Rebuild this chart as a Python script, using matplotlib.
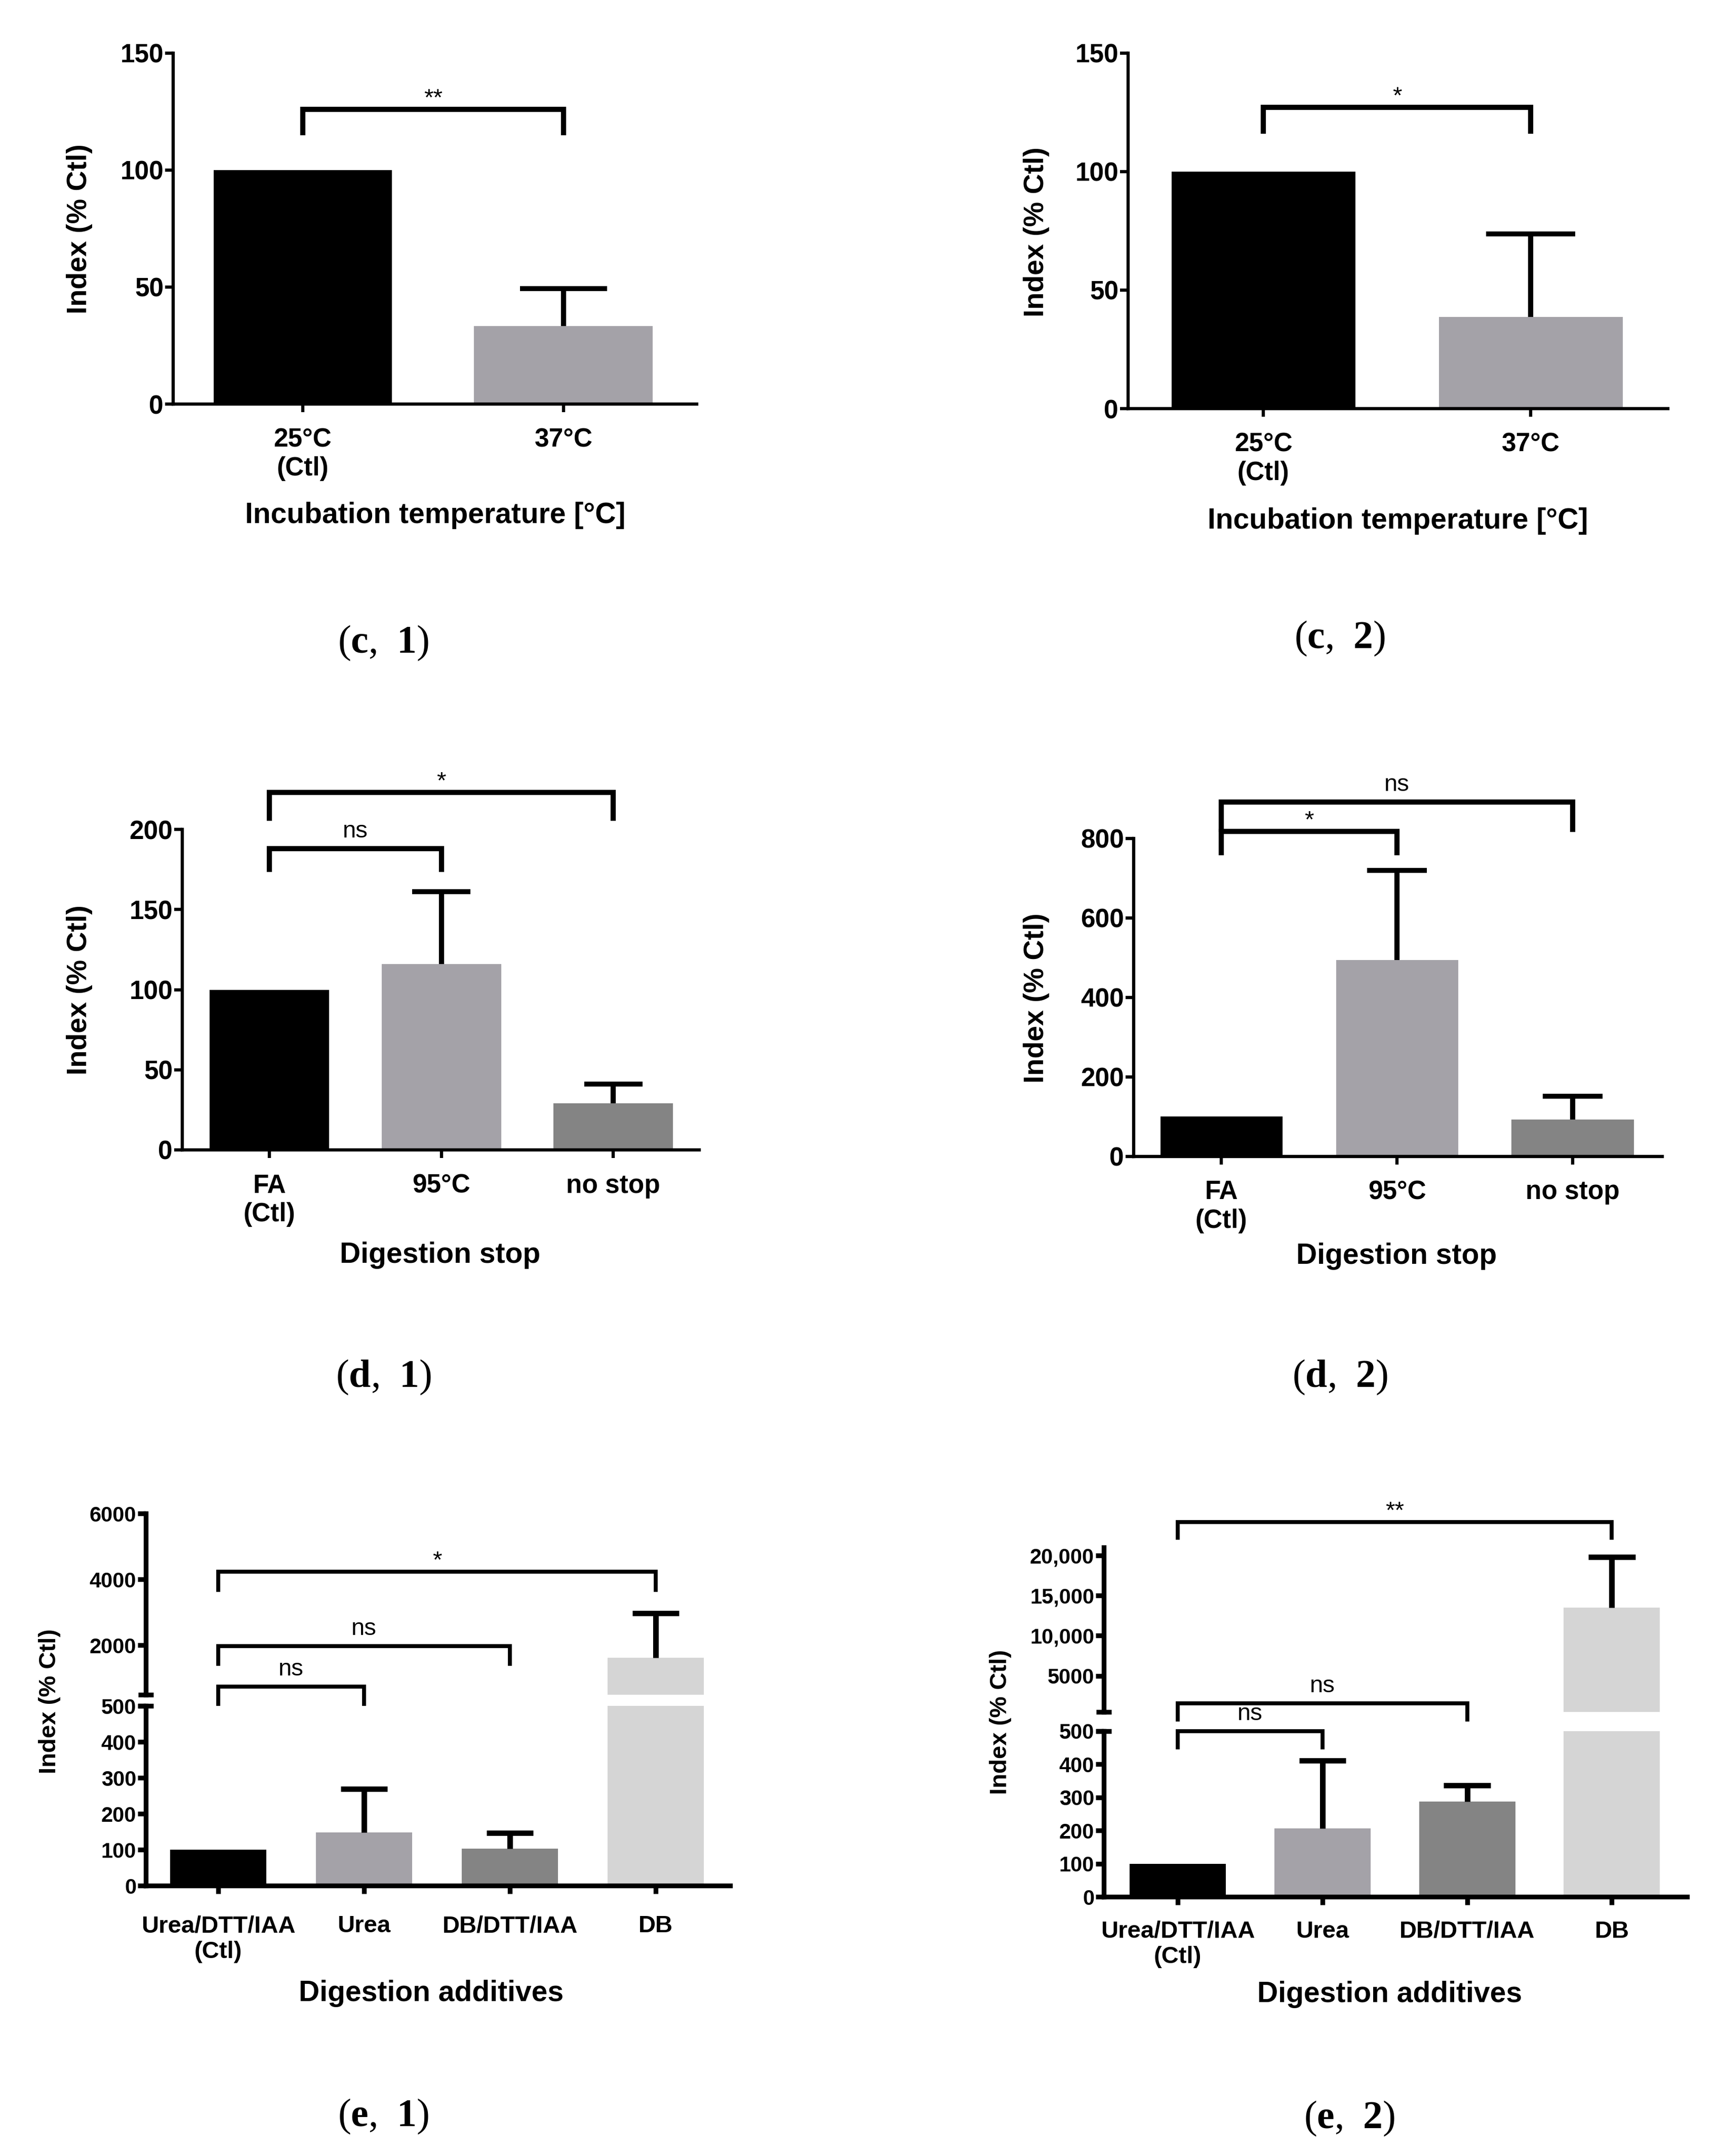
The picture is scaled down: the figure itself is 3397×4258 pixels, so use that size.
import matplotlib
matplotlib.use("Agg")
import matplotlib.pyplot as plt

W, H = 3397, 4258
DPI = 200

plt.rcParams['font.family'] = ['Liberation Sans', 'DejaVu Sans']
plt.rcParams['mathtext.fontset'] = 'custom'
plt.rcParams['mathtext.rm'] = 'Liberation Serif'
plt.rcParams['mathtext.bf'] = 'Liberation Serif:bold'

BLACK = '#000000'
MID = '#a4a2a8'
DARK = '#848484'
LIGHT = '#d5d5d5'

# ---------------- data ----------------
temp_labels = ['25°C\n(Ctl)', '37°C']
temp_1 = [100, 33.3]
temp_1_err = [0, 16]
temp_2 = [100, 38.7]
temp_2_err = [0, 35]

stop_labels = ['FA\n(Ctl)', '95°C', 'no stop']
stop_1 = [100, 116, 29]
stop_1_err = [0, 45, 12]
stop_2 = [100, 494, 93]
stop_2_err = [0, 226, 58]

add_labels = ['Urea/DTT/IAA\n(Ctl)', 'Urea', 'DB/DTT/IAA', 'DB']
add_1 = [100, 149, 103, 1630]
add_1_err = [0, 120, 44, 1345]
add_2 = [100, 206, 288, 13500]
add_2_err = [0, 205, 48, 6280]

# brackets: (from, to, top, leg end, label)
temp_1_sig = [(0, 1, 126, 116, '**')]
temp_2_sig = [(0, 1, 127, 117, '*')]
stop_1_sig = [(0, 1, 188, 175, 'ns'), (0, 2, 223, 207, '*')]
stop_2_sig = [(0, 1, 817, 764, '*'), (0, 2, 891, 823, 'ns')]
add_1_sig = [(0, 1, 747, 200, 'ns'), (0, 2, 1974, 1440, 'ns'), (0, 3, 4236, 3690, '*')]
add_2_sig_low = [(0, 1, 500, 451, 'ns')]
add_2_sig_up = [(0, 2, 1576, -440, 'ns'), (0, 3, 24150, 22190, '**')]

fig = plt.figure(figsize=(W / DPI, H / DPI), dpi=DPI)


def add_ax(x0, x1, ytop, ybot):
    return fig.add_axes([x0 / W, 1 - ybot / H, (x1 - x0) / W, (ybot - ytop) / H])


def style(ax, fs, lw, xpad=11):
    ax.spines['top'].set_visible(False)
    ax.spines['right'].set_visible(False)
    ax.spines['left'].set_linewidth(lw)
    ax.spines['bottom'].set_linewidth(lw)
    ax.tick_params(axis='y', width=lw, length=5.8, pad=1, labelsize=fs)
    ax.tick_params(axis='x', width=lw, length=5.8, pad=xpad, labelsize=fs)


def bars(ax, vals, errs, colors, w, elw=3.5, floor=None):
    x = list(range(len(vals)))
    ax.bar(x, vals, width=w, color=colors)
    for i in x:
        if errs[i] > 0:
            top = vals[i] + errs[i]
            if floor is not None and top < floor:
                continue
            ax.vlines(i, vals[i], top, color='k', lw=elw + 0.2)
            ax.hlines(top, i - w * 0.243, i + w * 0.243, color='k', lw=elw)


def brackets(ax, sig, lw=3.7, fs=17):
    for i, j, top, leg, lab in sig:
        ax.plot([i, i, j, j], [leg, top, top, leg], color='k', lw=lw,
                clip_on=False, solid_joinstyle='miter')
        off = 3 if '*' in lab else 8
        ax.annotate(lab, ((i + j) / 2, top), xytext=(0, off), textcoords='offset points',
                    ha='center', va='baseline', fontsize=fs, annotation_clip=False)


def ylab(x, y, fs=20):
    fig.text(x / W, 1 - y / H, 'Index (% Ctl)', rotation=90, ha='center', va='center',
             fontsize=fs, fontweight='bold')


def xlab(x, y, txt, fs=20.5):
    fig.text(x / W, 1 - y / H, txt, ha='center', va='center', fontsize=fs, fontweight='bold')


def caption(x, y, letter, num):
    fig.text(x / W, 1 - y / H, r'$(\mathbf{%s},$ $\mathbf{%s})$' % (letter, num),
             ha='center', va='center', fontsize=28)


def simple_panel(box, xlim, ylim, yticks, vals, errs, labels, colors, w, sig):
    ax = add_ax(*box)
    style(ax, 18.5, 2.3)
    bars(ax, vals, errs, colors, w)
    ax.set_xlim(*xlim)
    ax.set_ylim(*ylim)
    ax.set_yticks(yticks, [str(v) for v in yticks], fontweight='bold')
    ax.set_xticks(range(len(labels)), labels, fontweight='bold')
    brackets(ax, sig)
    return ax


# ---------------- (c) incubation temperature ----------------
simple_panel((342, 1376, 104.7, 798), (-0.497, 1.511), (0, 150), [0, 50, 100, 150],
             temp_1, temp_1_err, temp_labels, [BLACK, MID], 0.685, temp_1_sig)
ylab(157, 452)
xlab(860, 1018, 'Incubation temperature [°C]')
caption(757, 1270, 'c', '1')

simple_panel((2228, 3294, 104.7, 807), (-0.506, 1.513), (0, 150), [0, 50, 100, 150],
             temp_2, temp_2_err, temp_labels, [BLACK, MID], 0.687, temp_2_sig)
ylab(2047, 458)
xlab(2761, 1029, 'Incubation temperature [°C]')
caption(2646, 1261, 'c', '2')

# ---------------- (d) digestion stop ----------------
simple_panel((360, 1381, 1638, 2271), (-0.507, 2.5), (0, 200), [0, 50, 100, 150, 200],
             stop_1, stop_1_err, stop_labels, [BLACK, MID, DARK], 0.695, stop_1_sig)
ylab(157, 1955)
xlab(869, 2479, 'Digestion stop')
caption(757, 2720, 'd', '1')

simple_panel((2239, 3283, 1655.8, 2283.8), (-0.499, 2.51), (0, 800), [0, 200, 400, 600, 800],
             stop_2, stop_2_err, stop_labels, [BLACK, MID, DARK], 0.695, stop_2_sig)
ylab(2047, 1971)
xlab(2758, 2481, 'Digestion stop')
caption(2646, 2720, 'd', '2')

# ---------------- (e) digestion additives (broken axis) ----------------
add_cols = [BLACK, MID, DARK, LIGHT]


def break_mark(ax, yval, half_px):
    half = half_px / (ax.get_position().width * W)
    ax.plot([-half, half], [yval, yval], color='k', lw=3.4, clip_on=False,
            transform=ax.get_yaxis_transform(), solid_capstyle='butt')


def broken_panel(x0, x1, up_box, low_box, xlim, up_lim, up_ticks, up_labels,
                 vals, errs, w, xpad):
    up = add_ax(x0, x1, *up_box)
    low = add_ax(x0, x1, *low_box)
    style(up, 15, 3.4, xpad)
    style(low, 15, 3.4, xpad)
    bars(up, vals, errs, add_cols, w, elw=3.8, floor=up_lim[0])
    bars(low, vals, errs, add_cols, w, elw=3.8)
    for ax in (up, low):
        ax.set_xlim(*xlim)
    up.set_ylim(*up_lim)
    up.spines['bottom'].set_visible(False)
    up.set_xticks([])
    up.set_yticks(up_ticks, up_labels, fontweight='bold')
    low.set_ylim(0, 500)
    low_ticks = [0, 100, 200, 300, 400, 500]
    low.set_yticks(low_ticks, [str(v) for v in low_ticks], fontweight='bold')
    low.set_xticks(range(len(add_labels)), add_labels, fontweight='bold', fontsize=17)
    break_mark(up, up_lim[0], 15)
    break_mark(low, 500, 15)
    return up, low


up1, low1 = broken_panel(288, 1442, (2989.4, 3347), (3369.4, 3724.3), (-0.497, 3.51),
                         (500, 6000), [2000, 4000, 6000], ['2000', '4000', '6000'],
                         add_1, add_1_err, 0.66, 15)
brackets(up1, add_1_sig, lw=2.8)
ylab(98, 3360, 17)
xlab(852, 3937, 'Digestion additives')
caption(757, 4180, 'e', '1')

up2, low2 = broken_panel(2180, 3332, (3056, 3381), (3418.9, 3746), (-0.511, 3.52),
                         (500, 21000), [5000, 10000, 15000, 20000],
                         ['5000', '10,000', '15,000', '20,000'],
                         add_2, add_2_err, 0.665, 11)
brackets(low2, add_2_sig_low, lw=2.8)
brackets(up2, add_2_sig_up, lw=2.8)
ylab(1976, 3401, 17)
xlab(2745, 3939, 'Digestion additives')
caption(2665, 4184, 'e', '2')

fig.savefig('out.png', dpi=DPI, facecolor='white')
